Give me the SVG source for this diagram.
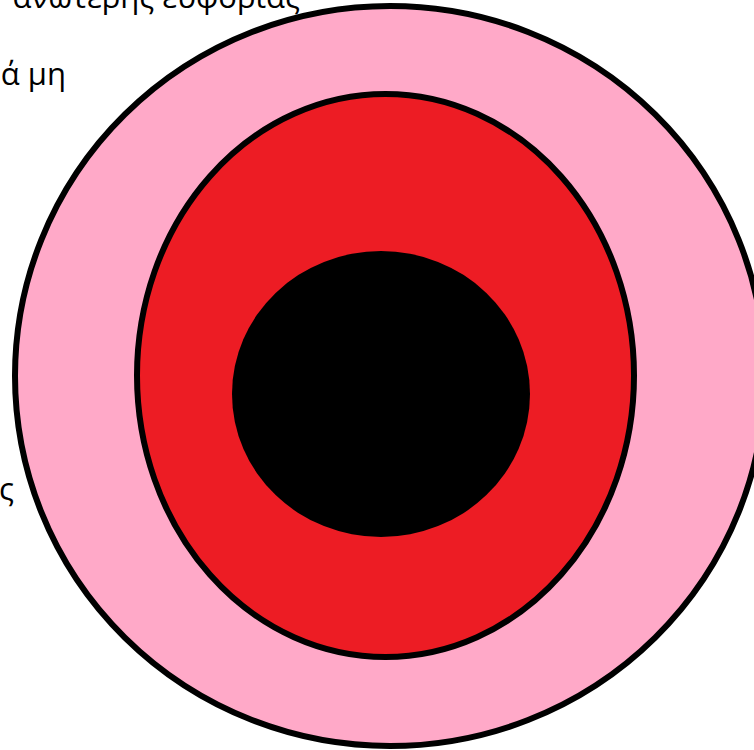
<svg xmlns="http://www.w3.org/2000/svg" width="754" height="750" viewBox="0 0 754 750">
<style>
.t{font-family:"Open Sans","Noto Sans","DejaVu Sans",sans-serif;font-size:31px;fill:#000;text-anchor:end}
.ring{stroke:#000;stroke-width:6}
</style>
<rect width="754" height="750" fill="#fff"/>
<g id="labels">
<text class="t" x="300" y="8">ανώτερης ευφορίας</text>
<text class="t" x="66" y="85">ά μη</text>
<text class="t" x="14" y="500">ς</text>
</g>
<g id="outer"><ellipse class="ring" cx="390" cy="376" rx="375" ry="370" fill="#FFA9C8"/></g>
<g id="middle"><ellipse class="ring" cx="385.5" cy="375.5" rx="248.5" ry="281.5" fill="#ED1C24"/></g>
<g id="inner"><ellipse cx="381" cy="394" rx="149" ry="143" fill="#000"/></g>
</svg>
